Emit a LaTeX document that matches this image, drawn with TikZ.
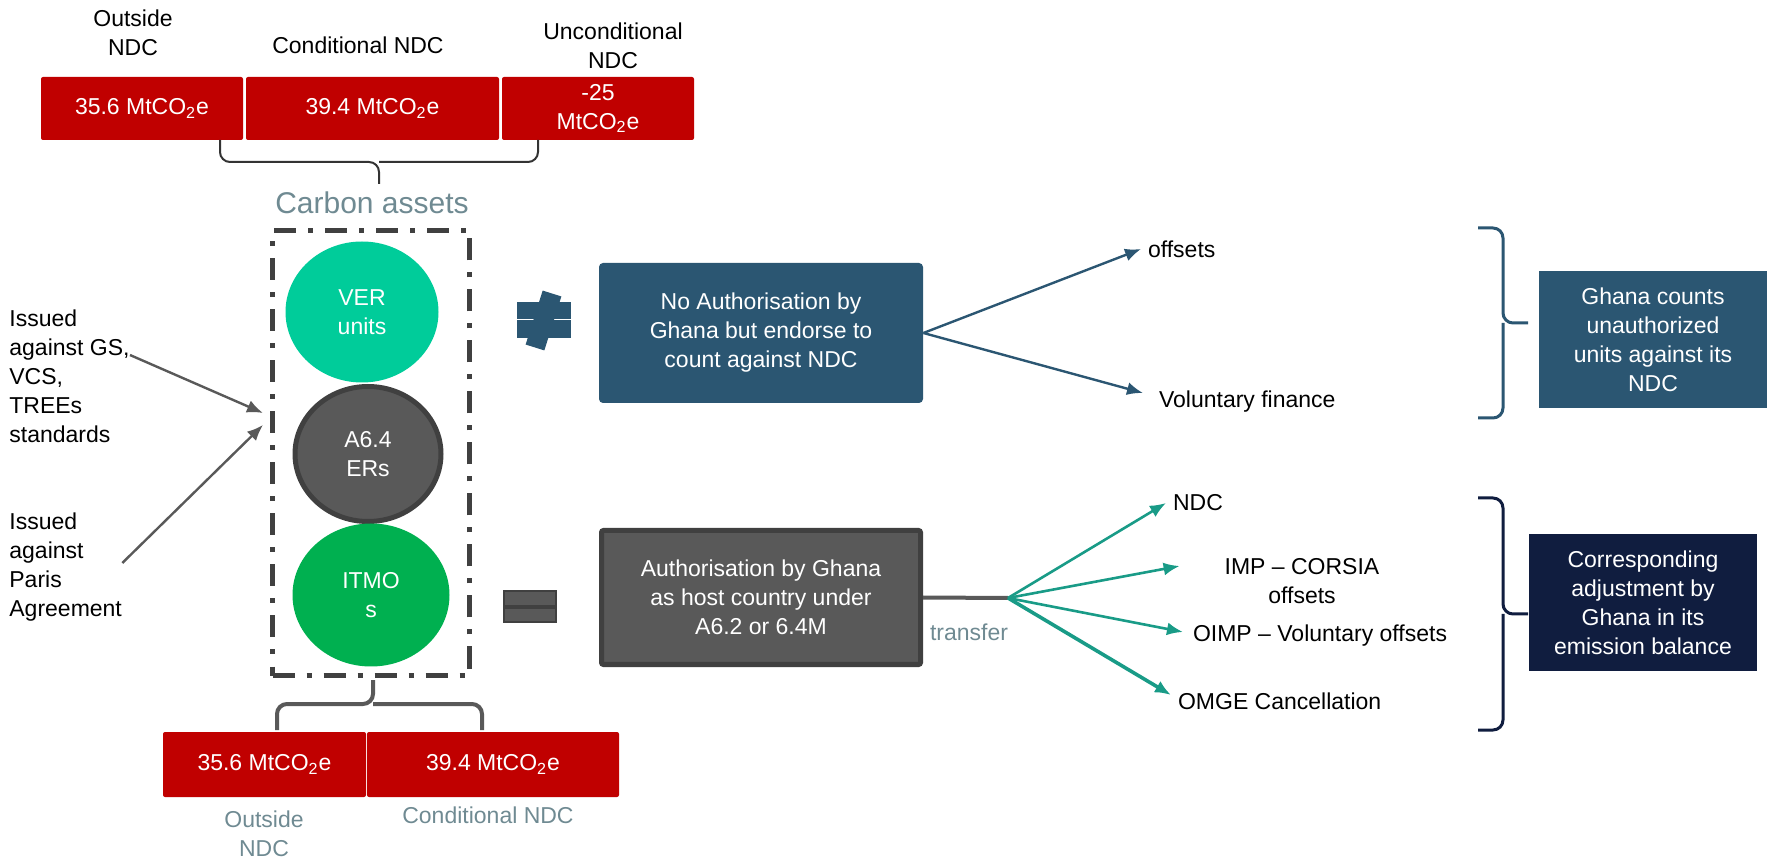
\documentclass[tikz,border=0pt]{standalone}
\usepackage{fontspec}
\setmainfont{Liberation Sans}
\usepackage{xcolor}
\usepackage{tikz}
\usetikzlibrary{arrows.meta}
\usetikzlibrary{shapes.geometric}
\tikzset{>={Latex[length=8pt,width=6.5pt]}}
\definecolor{ndcred}{HTML}{C00000}
\definecolor{slate}{HTML}{6F8A92}
\definecolor{petrol}{HTML}{2B5672}
\definecolor{navy}{HTML}{101D3F}
\definecolor{mint}{HTML}{00CC9A}
\definecolor{leaf}{HTML}{00B050}
\definecolor{arrowteal}{HTML}{199B87}
\definecolor{charcoal}{HTML}{595959}
\definecolor{darkline}{HTML}{404040}

\begin{document}
\begin{tikzpicture}[x=0.5pt,y=-0.5pt,font=\fontsize{11.5}{14.5}\selectfont,
	redbox/.style={fill=ndcred,text=white,inner sep=0pt,rounded corners=1pt,align=center},
	unit/.style={ellipse,text=white,inner sep=0pt,align=center},
	infobox/.style={text=white,inner sep=0pt,align=center},
	bracket/.style={rounded corners=5pt}]
	\useasboundingbox (0,0) rectangle (1767,865);
	% amounts on top
	\node[redbox,minimum width=101pt,minimum height=31.5pt] (outsideTop) at (142,108.5) {35.6 MtCO\textsubscript{2}e};
	\node[redbox,minimum width=126.5pt,minimum height=31.5pt] (conditionalTop) at (372.5,108.5) {39.4 MtCO\textsubscript{2}e};
	\node[redbox,minimum width=96pt,minimum height=31.5pt] (unconditionalTop) at (598,108.5) {-25\\MtCO\textsubscript{2}e};
	\node[align=center] (outsideLbl) at (133,33) {Outside\\NDC};
	\node (conditionalLbl) at (358,45) {Conditional NDC};
	\node[align=center] (unconditionalLbl) at (613,46) {Unconditional\\NDC};
	\draw[bracket,line width=1pt,color=darkline!80!black] (220,140) -- (220,162) -- (379,162) -- (379,184) (538,140) -- (538,162) -- (379,162);
	\node[slate,font=\fontsize{15}{18}\selectfont] (carbon) at (372,203) {Carbon assets};
	% carbon assets
	\node[draw=darkline,line width=2.5pt,dash pattern=on 11pt off 6pt on 2.5pt off 6pt,minimum width=98.5pt,minimum height=222.5pt] (assets) at (371,453) {};
	\node[unit,fill=mint,minimum width=76.5pt,minimum height=70.5pt] (ver) at (362,312) {VER\\units};
	\node[unit,fill=charcoal,draw=darkline,line width=2.5pt,minimum width=73pt,minimum height=67.5pt] (a64) at (368,454) {A6.4\\ERs};
	\node[unit,fill=leaf,minimum width=78.5pt,minimum height=71.5pt] (itmo) at (371,595) {ITMO\\s};
	\node[anchor=west,align=left,inner sep=0pt] (gsText) at (9,376) {Issued\\against GS,\\VCS,\\TREEs\\standards};
	\node[anchor=west,align=left,inner sep=0pt] (parisText) at (9,567) {Issued\\against\\Paris\\Agreement};
	\draw[->,charcoal,line width=1.2pt] ([yshift=10.5pt]gsText.east) -- ([xshift=-3.5pt,yshift=20pt]assets.west);
	\draw[->,charcoal,line width=1.2pt] ([yshift=2pt]parisText.east) -- ([xshift=-3.5pt,yshift=14pt]assets.west);
	% amounts below
	\draw[bracket,line width=2pt,color=charcoal] (277,730) -- (277,704) -- (373,704) -- (373,680) (482,730) -- (482,704) -- (373,704);
	\node[redbox,minimum width=101.5pt,minimum height=32.5pt] (outsideBot) at (264.5,764.5) {35.6 MtCO\textsubscript{2}e};
	\node[redbox,minimum width=126pt,minimum height=32.5pt] (conditionalBot) at (493,764.5) {39.4 MtCO\textsubscript{2}e};
	\node[slate,align=center] (outsideBotLbl) at (264,834) {Outside\\NDC};
	\node[slate] (conditionalBotLbl) at (488,815) {Conditional NDC};
	% not equal / equal signs
	\fill[petrol] (517,302) rectangle (571,338);
	\draw[white,line width=0.5pt] (517,320) -- (571,320);
	\node[fill=petrol,minimum width=9.8pt,minimum height=28.3pt,inner sep=0pt,rotate=-17.5] (neq) at (543.5,320.5) {};
	\draw[fill=charcoal,draw=darkline,line width=1.2pt] (504,591) rectangle (556,606.5);
	\draw[fill=charcoal,draw=darkline,line width=1.2pt] (504,607.5) rectangle (556,622);
	% no authorisation
	\node[infobox,fill=petrol,minimum width=162pt,minimum height=70pt,rounded corners=2pt] (noauth) at (761,333) {No Authorisation by\\Ghana but endorse to\\count against NDC};
	\node[anchor=west] (offsets) at (1141,249) {offsets};
	\node[anchor=west] (volfin) at (1152,402) {Voluntary finance};
	\draw[->,petrol,line width=1.2pt] (noauth.east) -- (offsets.west);
	\draw[->,petrol,line width=1.2pt] (noauth.east) -- ([xshift=-4.5pt,yshift=4.5pt]volfin.west);
	\draw[bracket,line width=1.5pt,color=petrol] (1478,228) -- (1503,228) -- (1503,323) -- (1528,323) (1478,418) -- (1503,418) -- (1503,323);
	\node[infobox,fill=petrol,minimum width=114pt,minimum height=68.5pt] (counts) at (1653,339.5) {Ghana counts\\unauthorized\\units against its\\NDC};
	% authorisation
	\node[infobox,fill=charcoal,draw=darkline,line width=2.5pt,minimum width=159.5pt,minimum height=67pt,rounded corners=1pt] (auth) at (761,597.5) {Authorisation by Ghana\\as host country under\\A6.2 or 6.4M};
	\coordinate (split) at (1008,598);
	\draw[charcoal,line width=2pt] (auth.east) -- (split);
	\node[slate] (transfer) at (969,632) {transfer};
	\node[anchor=west] (ndc) at (1166,503) {NDC};
	\node[align=center] (imp) at (1302,581) {IMP -- CORSIA\\offsets};
	\node (oimp) at (1320,636) {OIMP -- Voluntary offsets};
	\node[anchor=west] (omge) at (1171,701) {OMGE Cancellation};
	\draw[->,arrowteal,line width=1.3pt] (split) -- (ndc.west);
	\draw[->,arrowteal,line width=1.3pt] (split) -- ([xshift=-19pt,yshift=7.5pt]imp.west);
	\draw[->,arrowteal,line width=1.3pt] (split) -- ([xshift=-1.5pt,yshift=2pt]oimp.west);
	\draw[->,arrowteal,line width=1.8pt] (split) -- ([yshift=3pt]omge.west);
	\draw[bracket,line width=1.5pt,color=navy] (1478,498) -- (1503,498) -- (1503,614) -- (1528,614) (1478,730) -- (1503,730) -- (1503,614);
	\node[infobox,fill=navy,minimum width=114pt,minimum height=68.5pt] (adjust) at (1643,602.5) {Corresponding\\adjustment by\\Ghana in its\\emission balance};
\end{tikzpicture}
\end{document}
